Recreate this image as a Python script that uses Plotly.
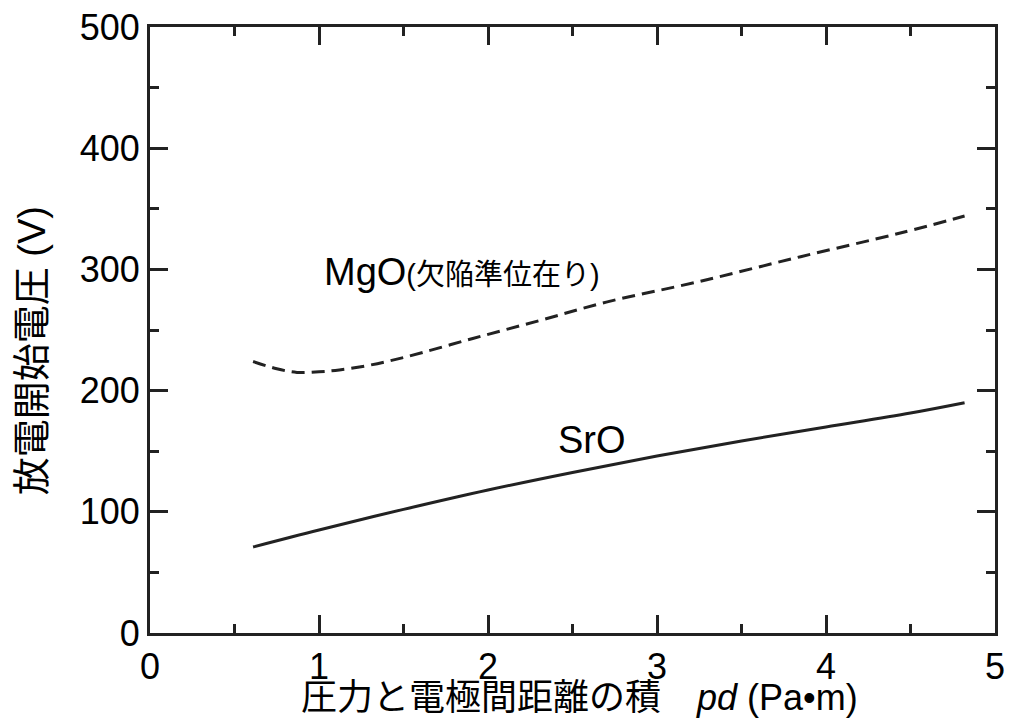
import plotly.graph_objects as go

# values
pd_sro = [0.61, 1.0, 1.5, 2.0, 2.5, 3.0, 3.5, 4.0, 4.5, 4.82]
v_sro = [71, 85, 102, 118, 132.5, 146, 158.5, 170, 181.5, 190]

pd_mgo = [0.61, 0.75, 0.87, 1.0, 1.12, 1.3, 1.52, 1.91, 2.31, 2.7, 3.25, 3.85, 4.44, 4.82]
v_mgo = [224, 218, 215, 215.5, 217, 221, 228, 243, 258, 273, 290, 310.5, 330, 344]

x_ticks = [0, 1, 2, 3, 4, 5]
y_ticks = [0, 100, 200, 300, 400, 500]

ink = "#222222"
font = "Liberation Sans, Arial, Noto Sans CJK JP, sans-serif"

fig = go.Figure()
fig.add_trace(go.Scatter(x=pd_mgo, y=v_mgo, mode="lines", line_shape="spline",
                         line=dict(color=ink, width=3, dash="13px,7px")))
fig.add_trace(go.Scatter(x=pd_sro, y=v_sro, mode="lines", line_shape="spline",
                         line=dict(color=ink, width=3)))

# curve labels
fig.add_annotation(x=1.02, y=298, xref="x", yref="y", showarrow=False,
                   text="MgO<span style='font-size:29px'>(欠陥準位在り)</span>",
                   font=dict(size=38, color="black", family=font), xanchor="left")
fig.add_annotation(x=2.40, y=159, xref="x", yref="y", showarrow=False,
                   text="SrO", font=dict(size=38, color="black", family=font), xanchor="left")

# axis titles
fig.add_annotation(x=-0.1396, y=0.465, xref="paper", yref="paper", showarrow=False,
                   text="放電開始電圧 (V)", textangle=-90, xanchor="center", yanchor="middle",
                   font=dict(size=38, color="black", family=font))
fig.add_annotation(x=0.508, y=-0.1066, xref="paper", yref="paper", showarrow=False,
                   text="圧力と電極間距離の積　<i>pd</i> (Pa•m)", xanchor="center", yanchor="middle",
                   font=dict(size=36, color="black", family=font))

axis_common = dict(showline=True, linecolor=ink, linewidth=3, mirror="allticks",
                   ticks="inside", ticklen=18, tickwidth=3, tickcolor=ink,
                   showgrid=False, zeroline=False, automargin=False,
                   tickfont=dict(size=36, color="black", family=font))

fig.update_xaxes(range=[0, 5], tickvals=x_ticks, ticktext=[str(t) for t in x_ticks],
                 minor=dict(dtick=0.5, ticks="inside", ticklen=9, tickwidth=3, tickcolor=ink),
                 **axis_common)
fig.update_yaxes(range=[0, 500], tickvals=y_ticks, ticktext=[str(t) for t in y_ticks],
                 minor=dict(dtick=50, ticks="inside", ticklen=9, tickwidth=3, tickcolor=ink),
                 **axis_common)

fig.update_layout(width=1010, height=719, showlegend=False,
                  paper_bgcolor="white", plot_bgcolor="white",
                  margin=dict(l=150, r=15, t=27, b=86))

# drop the page's default body margin so the figure sits at the window corner
fig.write_html("out.html", config={"displayModeBar": False},
               post_script="document.body.style.margin='0';document.body.style.overflow='hidden';")
